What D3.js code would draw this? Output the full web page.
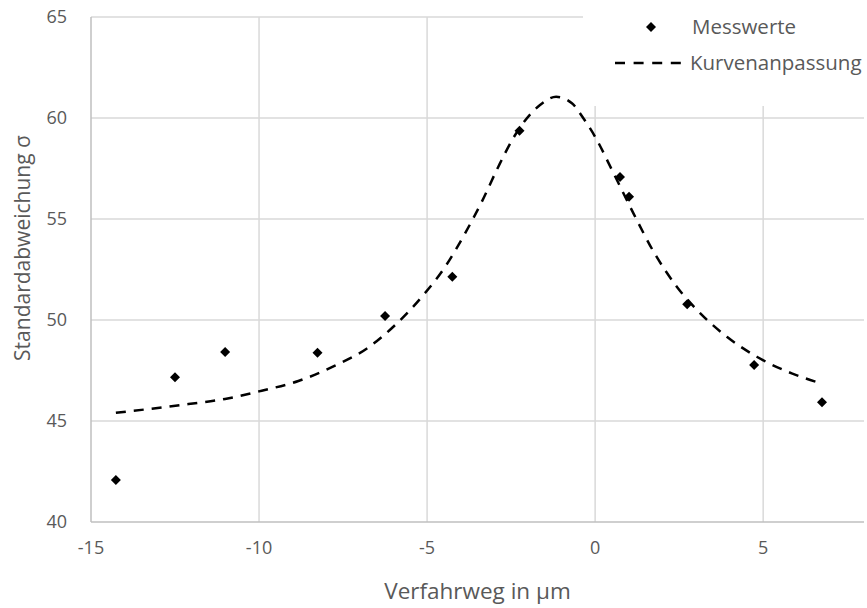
<!DOCTYPE html>
<html lang="de">
<head>
  <meta charset="utf-8">
  <title>Standardabweichung</title>
  <script src="https://d3js.org/d3.v7.min.js"></script>
  <style>
    body { margin: 0; background: #fff; }
    text { font-family: 'Open Sans', sans-serif; fill: #595959; }
  </style>
</head>
<body>
<script>
// Messwerte
var xMess = [-14.26, -12.5, -11.01, -8.26, -6.25, -4.25, -2.25, 0.74, 1.01, 2.74, 4.73, 6.75];
var yMess = [42.08, 47.16, 48.42, 48.38, 50.2, 52.14, 59.37, 57.08, 56.1, 50.78, 47.77, 45.93];

// Kurvenanpassung
var xFit = [-14.26, -13.19, -12.1, -11.01, -9.92, -8.83, -7.74, -6.8, -5.95, -5.11, -4.46, -3.87, -3.37,
            -2.88, -2.38, -1.64, -1.16, -0.69, -0.35, 0, 0.55, 1.14, 1.74, 2.43, 3.13, 3.92, 4.81, 5.85, 6.75];
var yFit = [45.41, 45.61, 45.84, 46.09, 46.5, 46.98, 47.74, 48.58, 49.75, 51.24, 52.64, 54.29, 55.86,
            57.59, 59.16, 60.64, 61.05, 60.73, 59.99, 59.07, 57.26, 55.28, 53.38, 51.65, 50.33, 49.17, 48.18, 47.36, 46.85];

var xTicks = [-15, -10, -5, 0, 5];
var yTicks = [40, 45, 50, 55, 60, 65];

var w = 867, h = 608;
var pLeft = 91, pRight = 864, pTop = 17, pBottom = 522;

var x = d3.scaleLinear().domain([-15, 8]).range([pLeft, pRight]);
var y = d3.scaleLinear().domain([40, 65]).range([pBottom, pTop]);

var svg = d3.select('body').append('svg')
  .attr('width', w)
  .attr('height', h);

// gridlines
svg.selectAll('.hgrid')
  .data(yTicks.slice(1))
  .enter().append('line')
  .attr('x1', pLeft).attr('x2', pRight)
  .attr('y1', function(d) { return y(d); })
  .attr('y2', function(d) { return y(d); })
  .attr('stroke', '#d9d9d9').attr('stroke-width', 1.5);

svg.selectAll('.vgrid')
  .data(xTicks.slice(1))
  .enter().append('line')
  .attr('x1', function(d) { return x(d); })
  .attr('x2', function(d) { return x(d); })
  .attr('y1', pTop).attr('y2', pBottom)
  .attr('stroke', '#d9d9d9').attr('stroke-width', 1.5);

// axis lines
svg.append('line')
  .attr('x1', pLeft).attr('x2', pLeft)
  .attr('y1', pTop).attr('y2', pBottom)
  .attr('stroke', '#bfbfbf').attr('stroke-width', 1.5);
svg.append('line')
  .attr('x1', pLeft).attr('x2', pRight)
  .attr('y1', pBottom).attr('y2', pBottom)
  .attr('stroke', '#bfbfbf').attr('stroke-width', 1.5);

// tick labels
svg.selectAll('.ylab')
  .data(yTicks)
  .enter().append('text')
  .attr('x', 67)
  .attr('y', function(d) { return y(d); })
  .attr('dy', '0.35em')
  .attr('text-anchor', 'end')
  .style('font-size', '18px')
  .text(function(d) { return d; });

svg.selectAll('.xlab')
  .data(xTicks)
  .enter().append('text')
  .attr('x', function(d) { return x(d); })
  .attr('y', 548)
  .attr('dy', '0.35em')
  .attr('text-anchor', 'middle')
  .style('font-size', '18px')
  .text(function(d) { return d; });

// axis titles
svg.append('text')
  .attr('x', (pLeft + pRight) / 2)
  .attr('y', 599)
  .attr('text-anchor', 'middle')
  .style('font-size', '22.5px')
  .text('Verfahrweg in µm');

svg.append('text')
  .attr('text-anchor', 'middle')
  .attr('transform', 'translate(30,248) rotate(-90)')
  .style('font-size', '21px')
  .text('Standardabweichung σ');

// fitted curve
var fit = xFit.map(function(d, i) { return [d, yFit[i]]; });
var line = d3.line()
  .x(function(d) { return x(d[0]); })
  .y(function(d) { return y(d[1]); })
  .curve(d3.curveMonotoneX);

svg.append('path')
  .datum(fit)
  .attr('d', line)
  .attr('fill', 'none')
  .attr('stroke', '#000')
  .attr('stroke-width', 2.5)
  .attr('stroke-dasharray', '10,8');

// points
var diamond = d3.symbol().type(d3.symbolSquare).size(50);
svg.selectAll('.pt')
  .data(xMess)
  .enter().append('path')
  .attr('d', diamond)
  .attr('transform', function(d, i) {
    return 'translate(' + x(d) + ',' + y(yMess[i]) + ') rotate(45)';
  })
  .attr('fill', '#000');

// legend (white box over the grid)
var lg = svg.append('g');
lg.append('rect')
  .attr('x', 583).attr('y', 0)
  .attr('width', w - 583).attr('height', 106)
  .attr('fill', '#fff');
lg.append('path')
  .attr('d', diamond)
  .attr('transform', 'translate(651,27) rotate(45)')
  .attr('fill', '#000');
lg.append('text')
  .attr('x', 692).attr('y', 27).attr('dy', '0.35em')
  .style('font-size', '20.5px')
  .text('Messwerte');
lg.append('line')
  .attr('x1', 615).attr('x2', 681)
  .attr('y1', 63).attr('y2', 63)
  .attr('stroke', '#000')
  .attr('stroke-width', 2.5)
  .attr('stroke-dasharray', '10,8.6');
lg.append('text')
  .attr('x', 690).attr('y', 63).attr('dy', '0.35em')
  .style('font-size', '20.5px')
  .text('Kurvenanpassung');
</script>
</body>
</html>
